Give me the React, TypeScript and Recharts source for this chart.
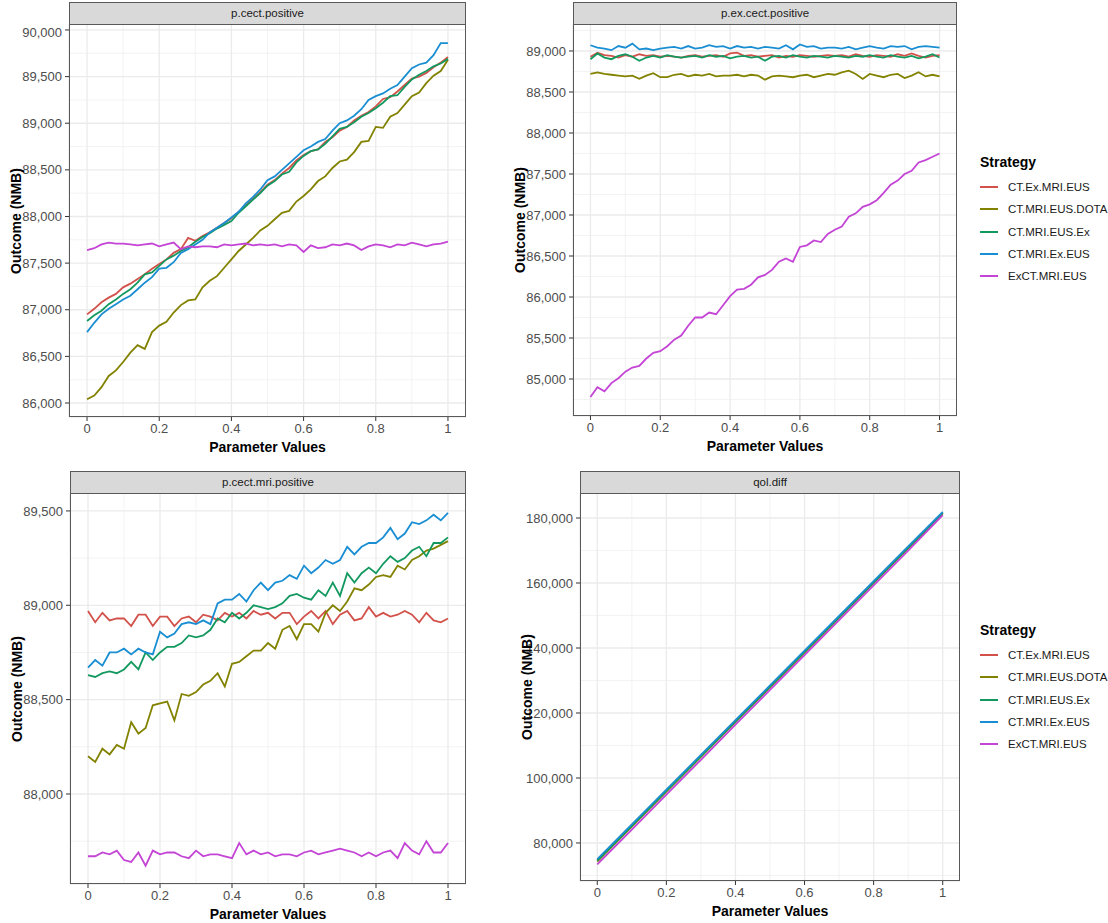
import { CartesianGrid, Line, LineChart, XAxis, YAxis } from "recharts";

const strategies = ["CT.Ex.MRI.EUS", "CT.MRI.EUS.DOTA", "CT.MRI.EUS.Ex", "CT.MRI.Ex.EUS", "ExCT.MRI.EUS"];
const strategyColors = ["#D2524B", "#828200", "#13995F", "#1A8ED2", "#C444D6"];

const paramFine = [
  0, 0.02, 0.04, 0.06, 0.08, 0.1, 0.12, 0.14, 0.16, 0.18,
  0.2, 0.22, 0.24, 0.26, 0.28, 0.3, 0.32, 0.34, 0.36, 0.38,
  0.4, 0.42, 0.44, 0.46, 0.48, 0.5, 0.52, 0.54, 0.56, 0.58,
  0.6, 0.62, 0.64, 0.66, 0.68, 0.7, 0.72, 0.74, 0.76, 0.78,
  0.8, 0.82, 0.84, 0.86, 0.88, 0.9, 0.92, 0.94, 0.96, 0.98,
  1,
];
const paramCoarse = [0, 0.1, 0.2, 0.3, 0.4, 0.5, 0.6, 0.7, 0.8, 0.9, 1];

const xTicks = [0, 0.2, 0.4, 0.6, 0.8, 1];
const xMinor = [0.1, 0.3, 0.5, 0.7, 0.9];

// p.cect.positive
const cectExMriEus = [
  86950, 87010, 87080, 87130, 87170, 87240, 87280, 87330, 87380, 87440,
  87490, 87540, 87610, 87650, 87770, 87740, 87790, 87830, 87880, 87930,
  87980, 88050, 88120, 88190, 88260, 88340, 88390, 88460, 88520, 88600,
  88660, 88700, 88720, 88800, 88850, 88920, 88960, 89030, 89080, 89120,
  89180, 89260, 89280, 89340, 89410, 89480, 89500, 89540, 89600, 89650,
  89710,
];
const cectMriEusDota = [
  86040, 86080, 86170, 86290, 86350, 86440, 86540, 86620, 86580, 86760,
  86830, 86870, 86970, 87050, 87100, 87110, 87240, 87310, 87360, 87450,
  87540, 87630, 87700, 87770, 87850, 87900, 87970, 88040, 88060, 88160,
  88220, 88290, 88380, 88430, 88520, 88590, 88610, 88690, 88800, 88810,
  88960, 88950, 89070, 89110, 89200, 89290, 89330, 89430, 89510, 89560,
  89680,
];
const cectMriEusEx = [
  86880, 86940, 86990, 87060, 87110, 87170, 87220, 87290, 87380, 87400,
  87470, 87540, 87580, 87630, 87670, 87730, 87780, 87820, 87870, 87910,
  87950, 88040, 88110, 88180, 88250, 88330, 88380, 88450, 88480, 88580,
  88650, 88700, 88720, 88780, 88860, 88940, 88960, 89010, 89070, 89110,
  89160, 89220, 89290, 89300, 89390, 89470, 89520, 89560, 89610, 89640,
  89690,
];
const cectMriExEus = [
  86760, 86860, 86950, 87010, 87060, 87110, 87150, 87220, 87290, 87350,
  87440, 87450, 87510, 87610, 87650, 87700, 87750, 87830, 87880, 87930,
  87990, 88050, 88140, 88210, 88290, 88390, 88430, 88500, 88570, 88640,
  88710, 88750, 88800, 88830, 88920, 89000, 89030, 89080, 89150, 89250,
  89290, 89320, 89370, 89410, 89500, 89590, 89630, 89650, 89730, 89860,
  89860,
];
const cectExCtMriEus = [
  87640, 87660, 87700, 87720, 87710, 87710, 87700, 87690, 87700, 87710,
  87680, 87700, 87720, 87650, 87680, 87670, 87680, 87680, 87670, 87700,
  87690, 87700, 87710, 87690, 87700, 87690, 87700, 87680, 87700, 87690,
  87620, 87690, 87660, 87670, 87700, 87690, 87710, 87690, 87640, 87680,
  87700, 87690, 87670, 87700, 87690, 87720, 87700, 87680, 87700, 87710,
  87730,
];

// p.ex.cect.positive
const exCectExMriEus = [
  88930, 88980, 88950, 88940, 88920, 88950, 88930, 88960, 88940, 88950,
  88930, 88940, 88930, 88920, 88940, 88950, 88930, 88940, 88950, 88930,
  88970, 88980, 88940, 88950, 88930, 88940, 88950, 88920, 88940, 88930,
  88950, 88940, 88930, 88940, 88950, 88940, 88950, 88930, 88960, 88940,
  88930, 88950, 88940, 88930, 88960, 88940, 88970, 88940, 88920, 88940,
  88950,
];
const exCectMriEusDota = [
  88720, 88740, 88720, 88710, 88700, 88690, 88700, 88660, 88700, 88730,
  88680, 88680, 88710, 88720, 88690, 88710, 88700, 88720, 88690, 88700,
  88700, 88710, 88690, 88710, 88700, 88650, 88690, 88700, 88690, 88680,
  88700, 88710, 88680, 88700, 88720, 88710, 88740, 88760, 88720, 88660,
  88720, 88700, 88680, 88710, 88720, 88670, 88700, 88740, 88690, 88710,
  88690,
];
const exCectMriEusEx = [
  88900, 88970, 88920, 88900, 88940, 88960, 88930, 88880, 88920, 88940,
  88920, 88950, 88930, 88920, 88930, 88940, 88920, 88950, 88930, 88940,
  88910, 88930, 88940, 88920, 88930, 88880, 88930, 88940, 88920, 88950,
  88930, 88920, 88940, 88930, 88920, 88940, 88930, 88920, 88940, 88930,
  88950, 88930, 88920, 88950, 88930, 88920, 88940, 88910, 88930, 88960,
  88920,
];
const exCectMriExEus = [
  89070, 89040, 89030, 89010, 89060, 89040, 89090, 89020, 89030, 89010,
  89030, 89040, 89050, 89030, 89060, 89030, 89040, 89070, 89050, 89060,
  89030, 89060, 89040, 89050, 89030, 89050, 89040, 89030, 89070, 89020,
  89080, 89050, 89060, 89030, 89040, 89040, 89030, 89050, 89020, 89040,
  89060, 89040, 89030, 89060, 89050, 89060, 89020, 89050, 89060, 89050,
  89040,
];
const exCectExCtMriEus = [
  84780, 84900, 84850, 84950, 85010, 85090, 85140, 85160, 85250, 85320,
  85340, 85400, 85480, 85530, 85650, 85750, 85750, 85810, 85790, 85900,
  86010, 86090, 86100, 86150, 86240, 86270, 86330, 86430, 86470, 86430,
  86610, 86630, 86690, 86670, 86770, 86820, 86860, 86980, 87020, 87100,
  87130, 87180, 87270, 87370, 87420, 87500, 87540, 87640, 87670, 87710,
  87750,
];

// p.cect.mri.positive
const mriExMriEus = [
  88970, 88910, 88960, 88920, 88930, 88930, 88890, 88950, 88950, 88890,
  88940, 88940, 88890, 88930, 88940, 88910, 88950, 88940, 88920, 88960,
  88940, 88960, 88930, 88970, 88950, 88960, 88930, 88960, 88960, 88900,
  88940, 88970, 88930, 88970, 88900, 88950, 88970, 88920, 88930, 88990,
  88940, 88960, 88940, 88950, 88970, 88950, 88910, 88960, 88920, 88910,
  88930,
];
const mriMriEusDota = [
  88200, 88170, 88240, 88210, 88260, 88240, 88380, 88320, 88350, 88470,
  88480, 88490, 88390, 88530, 88520, 88540, 88580, 88600, 88640, 88570,
  88690, 88700, 88730, 88760, 88760, 88800, 88770, 88870, 88890, 88820,
  88900, 88900, 88860, 88960, 89000, 88970, 89020, 89090, 89080, 89110,
  89150, 89160, 89150, 89210, 89190, 89240, 89260, 89290, 89300, 89320,
  89340,
];
const mriMriEusEx = [
  88630, 88620, 88640, 88650, 88640, 88660, 88700, 88660, 88750, 88710,
  88750, 88780, 88780, 88800, 88840, 88830, 88840, 88870, 88930, 88910,
  88960, 88930, 88960, 89000, 88990, 88980, 88990, 89010, 89050, 89060,
  89040, 89030, 89080, 89050, 89120, 89050, 89170, 89120, 89170, 89200,
  89170, 89220, 89260, 89230, 89250, 89290, 89310, 89260, 89330, 89330,
  89360,
];
const mriMriExEus = [
  88670, 88710, 88680, 88750, 88750, 88770, 88740, 88770, 88750, 88740,
  88860, 88830, 88850, 88900, 88910, 88900, 88920, 88900, 89010, 89030,
  89030, 89060, 89020, 89080, 89120, 89080, 89120, 89130, 89160, 89140,
  89210, 89170, 89200, 89240, 89220, 89240, 89310, 89270, 89310, 89330,
  89330, 89360, 89410, 89350, 89380, 89440, 89430, 89450, 89480, 89450,
  89490,
];
const mriExCtMriEus = [
  87670, 87670, 87690, 87680, 87700, 87650, 87640, 87690, 87620, 87700,
  87680, 87690, 87690, 87670, 87660, 87700, 87670, 87680, 87680, 87670,
  87660, 87740, 87680, 87700, 87680, 87690, 87670, 87680, 87680, 87670,
  87690, 87700, 87680, 87690, 87700, 87710, 87700, 87690, 87670, 87690,
  87670, 87690, 87700, 87660, 87740, 87700, 87680, 87750, 87690, 87690,
  87740,
];

// qol.diff
const qolExMriEus = [74700, 85400, 96100, 106800, 117600, 128200, 138900, 149600, 160300, 171000, 181600];
const qolMriEusDota = [74300, 85000, 95800, 106500, 117200, 127900, 138600, 149300, 160000, 170700, 181400];
const qolMriEusEx = [74600, 85300, 96000, 106700, 117400, 128100, 138800, 149500, 160200, 170900, 181500];
const qolMriExEus = [75000, 85700, 96400, 107100, 117800, 128500, 139200, 149900, 160600, 171300, 181900];
const qolExCtMriEus = [73400, 84100, 94900, 105600, 116400, 127100, 137800, 148600, 159300, 170000, 180900];

const cectTicks = [86000, 86500, 87000, 87500, 88000, 88500, 89000, 89500, 90000];
const cectMinor = [86250, 86750, 87250, 87750, 88250, 88750, 89250, 89750];
const exCectTicks = [85000, 85500, 86000, 86500, 87000, 87500, 88000, 88500, 89000];
const exCectMinor = [84750, 85250, 85750, 86250, 86750, 87250, 87750, 88250, 88750, 89250];
const mriTicks = [88000, 88500, 89000, 89500];
const mriMinor = [87750, 88250, 88750, 89250];
const qolTicks = [80000, 100000, 120000, 140000, 160000, 180000];
const qolMinor = [70000, 90000, 110000, 130000, 150000, 170000];

type Box = { left: number; top: number; right: number; bottom: number };

type PanelSpec = {
  title: string;
  xs: number[];
  series: number[][];
  domain: [number, number];
  ticks: number[];
  minor: number[];
  plot: Box;
};

const panels: PanelSpec[] = [
  {
    title: "p.cect.positive",
    xs: paramFine,
    series: [cectExMriEus, cectMriEusDota, cectMriEusEx, cectMriExEus, cectExCtMriEus],
    domain: [85850, 90064],
    ticks: cectTicks,
    minor: cectMinor,
    plot: { left: 69, top: 24, right: 466, bottom: 417 },
  },
  {
    title: "p.ex.cect.positive",
    xs: paramFine,
    series: [exCectExMriEus, exCectMriEusDota, exCectMriEusEx, exCectMriExEus, exCectExCtMriEus],
    domain: [84549, 89329],
    ticks: exCectTicks,
    minor: exCectMinor,
    plot: { left: 573, top: 24, right: 957, bottom: 416 },
  },
  {
    title: "p.cect.mri.positive",
    xs: paramFine,
    series: [mriExMriEus, mriMriEusDota, mriMriEusEx, mriMriExEus, mriExCtMriEus],
    domain: [87523, 89595],
    ticks: mriTicks,
    minor: mriMinor,
    plot: { left: 70, top: 493, right: 466, bottom: 884 },
  },
  {
    title: "qol.diff",
    xs: paramCoarse,
    series: [qolExMriEus, qolMriEusDota, qolMriEusEx, qolMriExEus, qolExCtMriEus],
    domain: [68300, 187700],
    ticks: qolTicks,
    minor: qolMinor,
    plot: { left: 580, top: 493, right: 960, bottom: 881 },
  },
];

const AXIS_W = 64;
const AXIS_H = 30;
const tickStyle = { fill: "#4D4D4D", fontSize: 13 };

function Panel({ spec }: { spec: PanelSpec }) {
  const { left, top, right, bottom } = spec.plot;
  const plotW = right - left;
  const plotH = bottom - top;
  const data = spec.xs.map((x, i) => {
    const row: Record<string, number> = { x };
    spec.series.forEach((s, k) => {
      row[`s${k}`] = s[i];
    });
    return row;
  });

  return (
    <>
      <div style={{ position: "absolute", left: left - AXIS_W, top }}>
        <LineChart
          width={plotW + AXIS_W}
          height={plotH + AXIS_H}
          data={data}
          margin={{ top: 0, right: 0, bottom: 0, left: 0 }}
        >
          <CartesianGrid
            horizontalValues={spec.minor}
            verticalValues={xMinor}
            stroke="#F0F0F0"
            strokeWidth={0.8}
          />
          <CartesianGrid stroke="#EBEBEB" strokeWidth={1.3} />
          <XAxis
            dataKey="x"
            type="number"
            domain={[-0.05, 1.05]}
            allowDataOverflow
            ticks={xTicks}
            tickFormatter={(v: number) => String(v)}
            height={AXIS_H}
            axisLine={false}
            tickSize={4}
            tickMargin={3}
            tickLine={{ stroke: "#333333" }}
            tick={tickStyle}
          />
          <YAxis
            type="number"
            domain={spec.domain}
            allowDataOverflow
            ticks={spec.ticks}
            tickFormatter={(v: number) => v.toLocaleString("en-US")}
            width={AXIS_W}
            axisLine={false}
            tickSize={4}
            tickMargin={3}
            tickLine={{ stroke: "#333333" }}
            tick={tickStyle}
          />
          {strategies.map((name, k) => (
            <Line
              key={name}
              type="linear"
              dataKey={`s${k}`}
              name={name}
              stroke={strategyColors[k]}
              strokeWidth={1.8}
              dot={false}
              isAnimationActive={false}
            />
          ))}
        </LineChart>
      </div>
      <div
        style={{
          position: "absolute",
          left,
          top,
          width: plotW,
          height: plotH,
          border: "1.4px solid #595959",
          boxSizing: "border-box",
          pointerEvents: "none",
        }}
      />
      <div
        style={{
          position: "absolute",
          left,
          top: top - 22,
          width: plotW,
          height: 23,
          background: "#D9D9D9",
          border: "1.4px solid #595959",
          boxSizing: "border-box",
          color: "#1A1A1A",
          fontSize: 11.5,
          lineHeight: "20px",
          textAlign: "center",
        }}
      >
        {spec.title}
      </div>
      <div
        style={{
          position: "absolute",
          left: (left + right) / 2,
          top: bottom + 30,
          transform: "translate(-50%, -50%)",
          fontSize: 14,
          fontWeight: "bold",
          whiteSpace: "nowrap",
        }}
      >
        Parameter Values
      </div>
      <div
        style={{
          position: "absolute",
          left: left - 53,
          top: (top + bottom) / 2,
          transform: "translate(-50%, -50%) rotate(-90deg)",
          fontSize: 14,
          fontWeight: "bold",
          whiteSpace: "nowrap",
        }}
      >
        Outcome (NMB)
      </div>
    </>
  );
}

function StrategyLegend({ top }: { top: number }) {
  return (
    <div style={{ position: "absolute", left: 980, top }}>
      <div style={{ position: "absolute", left: 0, top: -9, fontSize: 14, fontWeight: "bold", whiteSpace: "nowrap" }}>
        Strategy
      </div>
      {strategies.map((name, k) => (
        <div key={name}>
          <div
            style={{
              position: "absolute",
              left: 0,
              top: 23 + k * 22.3,
              width: 18,
              height: 2,
              background: strategyColors[k],
            }}
          />
          <div
            style={{
              position: "absolute",
              left: 28,
              top: 24 + k * 22.3 - 8,
              fontSize: 11.5,
              lineHeight: "16px",
              color: "#1A1A1A",
              whiteSpace: "nowrap",
            }}
          >
            {name}
          </div>
        </div>
      ))}
    </div>
  );
}

export default function App() {
  return (
    <div
      style={{
        position: "absolute",
        left: 0,
        top: 0,
        width: 1108,
        height: 923,
        background: "#FFFFFF",
        fontFamily: '"Liberation Sans", Arial, sans-serif',
        overflow: "hidden",
      }}
    >
      {panels.map((p) => (
        <Panel key={p.title} spec={p} />
      ))}
      <StrategyLegend top={163} />
      <StrategyLegend top={631} />
    </div>
  );
}
